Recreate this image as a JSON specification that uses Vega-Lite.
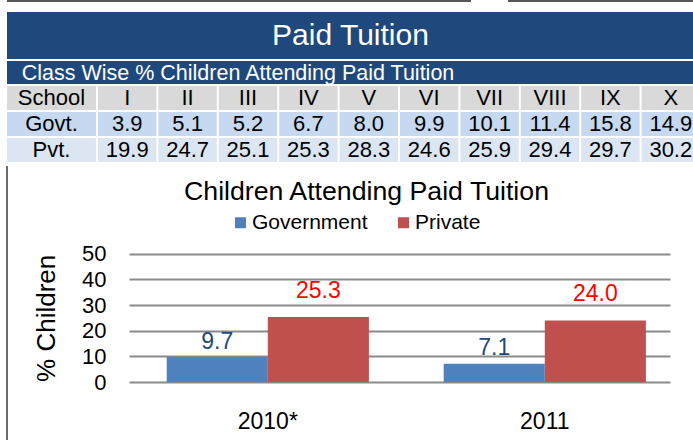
{
  "$schema": "https://vega.github.io/schema/vega-lite/v6.json",
  "padding": {"left": 6, "top": 0, "right": 0, "bottom": 0},
  "background": "white",
  "spacing": 10,
  "resolve": {"scale": {"color": "independent"}, "legend": {"color": "independent"}},
  "config": {
    "font": "Liberation Sans",
    "view": {"stroke": null},
    "axis": {"labelFont": "Liberation Sans", "titleFont": "Liberation Sans", "labelColor": "#000000", "titleColor": "#000000"},
    "title": {"font": "Liberation Sans", "fontWeight": "normal", "color": "#000000"}
  },
  "datasets": {
    "cells": [
      {"row": "School", "col": "I", "t": "I"}, {"row": "School", "col": "II", "t": "II"}, {"row": "School", "col": "III", "t": "III"}, {"row": "School", "col": "IV", "t": "IV"}, {"row": "School", "col": "V", "t": "V"},
      {"row": "School", "col": "VI", "t": "VI"}, {"row": "School", "col": "VII", "t": "VII"}, {"row": "School", "col": "VIII", "t": "VIII"}, {"row": "School", "col": "IX", "t": "IX"}, {"row": "School", "col": "X", "t": "X"},
      {"row": "Govt.", "col": "I", "t": "3.9"}, {"row": "Govt.", "col": "II", "t": "5.1"}, {"row": "Govt.", "col": "III", "t": "5.2"}, {"row": "Govt.", "col": "IV", "t": "6.7"}, {"row": "Govt.", "col": "V", "t": "8.0"},
      {"row": "Govt.", "col": "VI", "t": "9.9"}, {"row": "Govt.", "col": "VII", "t": "10.1"}, {"row": "Govt.", "col": "VIII", "t": "11.4"}, {"row": "Govt.", "col": "IX", "t": "15.8"}, {"row": "Govt.", "col": "X", "t": "14.9"},
      {"row": "Pvt.", "col": "I", "t": "19.9"}, {"row": "Pvt.", "col": "II", "t": "24.7"}, {"row": "Pvt.", "col": "III", "t": "25.1"}, {"row": "Pvt.", "col": "IV", "t": "25.3"}, {"row": "Pvt.", "col": "V", "t": "28.3"},
      {"row": "Pvt.", "col": "VI", "t": "24.6"}, {"row": "Pvt.", "col": "VII", "t": "25.9"}, {"row": "Pvt.", "col": "VIII", "t": "29.4"}, {"row": "Pvt.", "col": "IX", "t": "29.7"}, {"row": "Pvt.", "col": "X", "t": "30.2"}
    ],
    "rows": [{"row": "School"}, {"row": "Govt."}, {"row": "Pvt."}],
    "bars": [
      {"year": "2010*", "type": "Government", "pct": 9.7},
      {"year": "2010*", "type": "Private", "pct": 25.3},
      {"year": "2011", "type": "Government", "pct": 7.1},
      {"year": "2011", "type": "Private", "pct": 24.0}
    ]
  },
  "vconcat": [
    {
      "spacing": 37,
      "hconcat": [
        {
          "width": 464, "height": 2,
          "view": {"fill": "#555555", "stroke": null},
          "data": {"values": []},
          "mark": {"type": "text"},
          "encoding": {}
        },
        {
          "width": 186, "height": 2,
          "view": {"fill": "#555555", "stroke": null},
          "data": {"values": []},
          "mark": {"type": "text"},
          "encoding": {}
        }
      ]
    },
    {
      "spacing": 3,
      "resolve": {"scale": {"color": "independent"}, "legend": {"color": "independent"}},
      "vconcat": [
        {
          "spacing": 2,
          "vconcat": [
            {
              "width": 687, "height": 47,
              "view": {"fill": "#1F497D", "stroke": null},
              "data": {"values": [{"t": "Paid Tuition"}]},
              "mark": {"type": "text", "color": "#FFFFFF", "fontSize": 30, "baseline": "middle", "align": "center"},
              "encoding": {"text": {"field": "t"}}
            },
            {
              "spacing": 0,
              "hconcat": [
                {
                  "width": 462, "height": 23,
                  "view": {"fill": "#1F497D", "stroke": null},
                  "data": {"values": [{"t": "Class Wise % Children Attending Paid Tuition"}]},
                  "mark": {"type": "text", "color": "#FFFFFF", "fontSize": 21.5, "baseline": "middle", "align": "center", "dy": 1},
                  "encoding": {"text": {"field": "t"}}
                },
                {
                  "width": 225, "height": 23,
                  "view": {"fill": "#1F497D", "stroke": null},
                  "data": {"values": []},
                  "mark": {"type": "text"},
                  "encoding": {}
                }
              ]
            },
            {
              "spacing": 2,
              "hconcat": [
                {
                  "width": 89, "height": 76,
                  "data": {"name": "rows"},
                  "encoding": {
                    "y": {"field": "row", "type": "nominal", "sort": ["School", "Govt.", "Pvt."], "scale": {"paddingInner": 0.077, "paddingOuter": 0}, "axis": null}
                  },
                  "layer": [
                    {
                      "mark": {"type": "rect"},
                      "encoding": {"color": {"field": "row", "type": "nominal", "scale": {"domain": ["School", "Govt.", "Pvt."], "range": ["#D9D9D9", "#C6D9F1", "#DCE6F2"]}, "legend": null}}
                    },
                    {
                      "mark": {"type": "text", "fontSize": 22, "color": "#000000", "baseline": "middle"},
                      "encoding": {"text": {"field": "row"}}
                    }
                  ]
                },
                {
                  "width": 596, "height": 76,
                  "data": {"name": "cells"},
                  "encoding": {
                    "x": {"field": "col", "type": "nominal", "sort": ["I", "II", "III", "IV", "V", "VI", "VII", "VIII", "IX", "X"], "scale": {"range": [0, 602], "paddingInner": 0.033, "paddingOuter": 0}, "axis": null},
                    "y": {"field": "row", "type": "nominal", "sort": ["School", "Govt.", "Pvt."], "scale": {"paddingInner": 0.077, "paddingOuter": 0}, "axis": null}
                  },
                  "layer": [
                    {
                      "mark": {"type": "rect", "clip": true},
                      "encoding": {"color": {"field": "row", "type": "nominal", "scale": {"domain": ["School", "Govt.", "Pvt."], "range": ["#D9D9D9", "#C6D9F1", "#DCE6F2"]}, "legend": null}}
                    },
                    {
                      "mark": {"type": "text", "fontSize": 22, "color": "#000000", "baseline": "middle"},
                      "encoding": {"text": {"field": "t"}}
                    }
                  ]
                }
              ]
            }
          ]
        },
        {
          "width": 663, "height": 275,
          "view": {"stroke": "#3A3A3A", "strokeWidth": 1.5, "strokeDash": [0, 1601, 275, 0]},
          "title": {"text": "Children Attending Paid Tuition", "fontSize": 26.7, "anchor": "middle", "dx": 28, "offset": -40},
          "data": {"name": "bars"},
          "encoding": {
            "x": {
              "field": "year", "type": "nominal",
              "scale": {"range": [122, 663], "paddingInner": 0.27, "paddingOuter": 0.1116, "align": 0.61},
              "axis": {"title": null, "domain": false, "ticks": false, "labelAngle": 0, "labelFontSize": 23, "labelPadding": 28, "offset": -59}
            },
            "xOffset": {"field": "type", "type": "nominal", "sort": ["Government", "Private"]},
            "y": {
              "field": "pct", "type": "quantitative",
              "scale": {"domain": [0, 50], "nice": false, "range": [216, 87.7]},
              "axis": {"values": [0, 10, 20, 30, 40, 50], "offset": -122, "domain": false, "ticks": false, "labelPadding": 23, "labelFontSize": 22, "grid": true, "gridColor": "#8A8A8A", "gridWidth": 2, "title": "% Children", "titleFontSize": 26, "titleFontWeight": "normal", "titlePadding": 22}
            }
          },
          "layer": [
            {
              "mark": {"type": "bar"},
              "encoding": {
                "color": {
                  "field": "type", "type": "nominal",
                  "scale": {"domain": ["Government", "Private"], "range": ["#4F81BD", "#C0504D"]},
                  "legend": {"title": null, "orient": "none", "legendX": 223, "legendY": 46, "direction": "horizontal", "symbolType": "square", "symbolSize": 121, "symbolStrokeWidth": 0, "labelFontSize": 21, "labelFont": "Liberation Sans", "labelColor": "#000000", "labelOffset": 1, "columnPadding": 25}
                }
              }
            },
            {
              "transform": [{"filter": "datum.type == 'Government'"}],
              "mark": {"type": "text", "fontSize": 23, "color": "#1F497D", "baseline": "bottom", "dy": -3.5},
              "encoding": {"text": {"field": "pct", "format": ".1f"}}
            },
            {
              "transform": [{"filter": "datum.type == 'Private'"}],
              "mark": {"type": "text", "fontSize": 23, "color": "#FF0000", "baseline": "bottom", "dy": -14.5},
              "encoding": {"text": {"field": "pct", "format": ".1f"}}
            }
          ]
        }
      ]
    }
  ]
}
